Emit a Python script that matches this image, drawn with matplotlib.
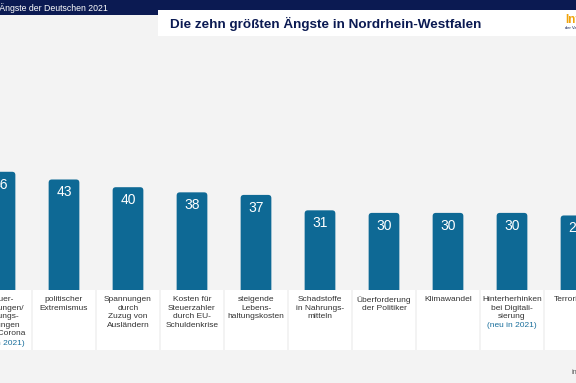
import matplotlib.pyplot as plt
from matplotlib.patches import FancyBboxPatch, Rectangle

plt.rcParams['font.family'] = ['Liberation Sans', 'DejaVu Sans']

# data
labels = [
    "Steuer-\nerhöhungen/\nLeistungs-\nkürzungen\ndurch Corona",
    "politischer\nExtremismus",
    "Spannungen\ndurch\nZuzug von\nAusländern",
    "Kosten für\nSteuerzahler\ndurch EU-\nSchuldenkrise",
    "steigende\nLebens-\nhaltungskosten",
    "Schadstoffe\nin Nahrungs-\nmitteln",
    "Überforderung\nder Politiker",
    "Klimawandel",
    "Hinterherhinken\nbei Digitali-\nsierung",
    "Terrorismus",
]
values = [46, 43, 40, 38, 37, 31, 30, 30, 30, 29]
new_2021 = [True, False, False, False, False, False, False, False, True, False]

navy = '#0b1a52'
bar_col = '#0e6995'
bg = '#f3f3f3'

W, H = 576, 383
fig = plt.figure(figsize=(W / 100, H / 100), dpi=100)
fig.patch.set_facecolor(bg)

# pixel helper axes for the slide decoration
pax = fig.add_axes([0, 0, 1, 1])
pax.set_xlim(0, W)
pax.set_ylim(H, 0)
pax.axis('off')

pax.add_patch(Rectangle((0, 0), W, 15, color=navy, lw=0))
pax.add_patch(Rectangle((158, 10), W - 158, 26, color='white', lw=0))
pax.text(108, 8, "Die größten Ängste der Deutschen 2021", color='white',
         fontsize=6.3, ha='right', va='center')
pax.text(170, 24, "Die zehn größten Ängste in Nordrhein-Westfalen", color=navy,
         fontsize=9.7, fontweight='bold', ha='left', va='center')
pax.text(565, 20, "Info", color='#f0a30a', fontsize=8.5, fontweight='bold',
         ha='left', va='center')
pax.text(565, 28, "der Versicherer", color=navy, fontsize=3, ha='left', va='center')
pax.text(571, 373, "info", color='#555555', fontsize=5, ha='left', va='center')

# chart axes in data coords
ax = fig.add_axes([0, 0, 1, 1])
ax.patch.set_alpha(0)
ax.axis('off')
ppu = 2.57  # pixels per percent
base = 290
ax.set_xlim(0, 9)
ax.set_ylim(-(H - base) / ppu, base / ppu)

x = list(range(len(values)))
bars = ax.bar(x, values, width=0.48, color=bar_col)
for b, v in zip(bars, values):
    bx, bw, bh = b.get_x(), b.get_width(), b.get_height()
    b.remove()
    # rounded top corners, bottom hidden under the label box
    ax.add_patch(FancyBboxPatch((bx, -2), bw, bh + 2,
                                boxstyle="round,pad=0,rounding_size=0.05",
                                mutation_aspect=64 / ppu,
                                fc=bar_col, ec='none', zorder=2))
    ax.text(bx + bw / 2, bh - 13 / ppu, str(v), color='white', fontsize=10,
            ha='center', va='center', zorder=4)

# label boxes
box_h = 60 / ppu
top = -6 / ppu
step = 8.8 / ppu
for xi, lab, new in zip(x, labels, new_2021):
    ax.add_patch(Rectangle((xi - 0.485, -box_h), 0.97, box_h, fc='white',
                           ec='none', zorder=3))
    ax.text(xi, top, lab, fontsize=6, color='#333333', ha='center',
            va='top', linespacing=1.32, zorder=4)
    if new:
        n = lab.count("\n") + 1
        ax.text(xi, top - n * step, "(neu in 2021)", fontsize=6,
                color='#1a6f9c', ha='center', va='top', zorder=4)

fig.savefig('out.png', dpi=100, facecolor=bg)
